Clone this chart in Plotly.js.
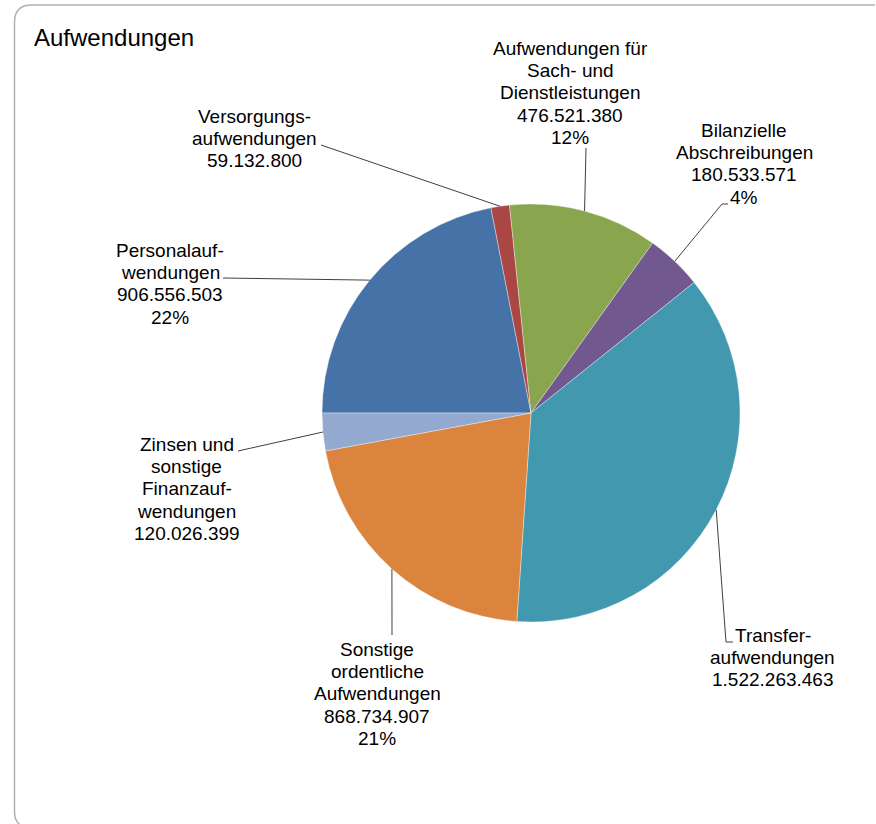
<!DOCTYPE html>
<html>
<head>
<meta charset="utf-8">
<script src="https://cdn.plot.ly/plotly-3.0.1.min.js"></script>
<style>html,body{margin:0;padding:0;background:#fff;}#chart{width:876px;height:824px;}</style>
</head>
<body>
<div id="chart"></div>
<script>
// ---- data (clockwise order, starting at 9 o'clock) ----
const categories = [
  "Personalauf-<br>wendungen",
  "Versorgungs-<br>aufwendungen",
  "Aufwendungen für<br>Sach- und<br>Dienstleistungen",
  "Bilanzielle<br>Abschreibungen",
  "Transfer-<br>aufwendungen",
  "Sonstige<br>ordentliche<br>Aufwendungen",
  "Zinsen und<br>sonstige<br>Finanzauf-<br>wendungen"
];
const values = [906556503, 59132800, 476521380, 180533571, 1522263463, 868734907, 120026399];
const showPct = [true, false, true, true, false, true, false];
const colors = ["#4572A7", "#AA4643", "#89A54E", "#71588F", "#4198AF", "#DB843D", "#93A9CF"];

// ---- layout constants (pixels) ----
const W = 876, H = 824;
const CX = 531, CY = 413, R = 209;
const ROT = -90;
const FONT = "Liberation Sans, Arial, sans-serif";
const LFS = 19, LSP = 22.2;
// label block: center x, first-line baseline y
const labelPos = [[170, 257], [254, 123], [570, 55], [744, 137], [772.5, 642], [377, 656], [186.5, 451]];
// leader line outer points (from label toward slice)
const leaderPts = [
  [[223, 278]],
  [[321, 145]],
  [[586, 148]],
  [[728, 204], [722, 204]],
  [[733, 642], [726, 642]],
  [[392, 635]],
  [[238, 451]]
];

const px = x => x / W;
const py = y => 1 - y / H;
const fmt = v => String(v).replace(/\B(?=(\d{3})+(?!\d))/g, ".");

const total = values.reduce((a, b) => a + b, 0);
const annotations = [];
const shapes = [];

annotations.push({
  text: "Aufwendungen", x: px(32), y: py(37.5), xref: "paper", yref: "paper",
  xanchor: "left", yanchor: "middle", showarrow: false,
  font: {family: FONT, size: 24, color: "#000"}
});

let cum = 0;
values.forEach((v, i) => {
  const mid = (ROT + (cum + v / 2) / total * 360) * Math.PI / 180;
  cum += v;
  const sx = CX + R * Math.sin(mid), sy = CY - R * Math.cos(mid);
  const pts = leaderPts[i].concat([[sx, sy]]);
  let path = "M" + px(pts[0][0]) + "," + py(pts[0][1]);
  for (let k = 1; k < pts.length; k++) path += " L" + px(pts[k][0]) + "," + py(pts[k][1]);
  shapes.push({type: "path", xref: "paper", yref: "paper", path: path,
    line: {color: "#404040", width: 1}});
  const lines = categories[i].split("<br>");
  lines.push(fmt(v));
  if (showPct[i]) lines.push(Math.round(v / total * 100) + "%");
  lines.forEach((t, j) => {
    annotations.push({
      text: t, x: px(labelPos[i][0]), y: py(labelPos[i][1] + j * LSP - 6.5),
      xref: "paper", yref: "paper", xanchor: "center", yanchor: "middle",
      showarrow: false, font: {family: FONT, size: LFS, color: "#000"}
    });
  });
});

// chart frame (top and left edges with rounded corners)
shapes.push({type: "path", xref: "paper", yref: "paper",
  path: "M" + px(22) + "," + py(826) + " Q" + px(14.5) + "," + py(822) + " " + px(14.5) + "," + py(812) +
        " L" + px(14.5) + "," + py(22) + " Q" + px(14.5) + "," + py(5) + " " + px(32) + "," + py(5) +
        " L" + px(875) + "," + py(5),
  line: {color: "#b0b0b0", width: 1.5}});

const trace = {
  type: "pie",
  labels: categories,
  values: values,
  sort: false,
  direction: "clockwise",
  rotation: ROT,
  textinfo: "none",
  hoverinfo: "label+value+percent",
  marker: {colors: colors, line: {color: "rgba(255,255,255,0.6)", width: 0.6}},
  domain: {x: [px(CX - R), px(CX + R)], y: [py(CY + R), py(CY - R)]},
  showlegend: false
};

Plotly.newPlot("chart", [trace], {
  width: W, height: H,
  margin: {l: 0, r: 0, t: 0, b: 0},
  paper_bgcolor: "#fff",
  showlegend: false,
  annotations: annotations,
  shapes: shapes
}, {displayModeBar: false, staticPlot: true});
</script>
</body>
</html>
